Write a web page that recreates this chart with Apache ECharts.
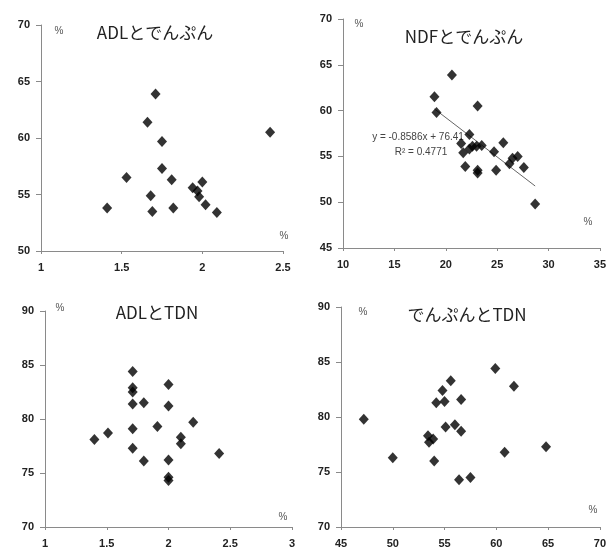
<!DOCTYPE html>
<html>
<head>
<meta charset="utf-8">
<script src="https://cdn.jsdelivr.net/npm/echarts@6/dist/echarts.min.js"></script>
<style>
  html, body { margin: 0; padding: 0; background: #fff; }
  #chart { width: 609px; height: 549px; }
</style>
</head>
<body>
<div id="chart"></div>
<script>
// ADL (%) vs starch (%)
const adlStarch = [
  [1.41, 53.8], [1.53, 56.5], [1.66, 61.4], [1.71, 63.9], [1.68, 54.9],
  [1.69, 53.5], [1.75, 59.7], [1.75, 57.3], [1.81, 56.3], [1.82, 53.8],
  [1.94, 55.6], [1.97, 55.3], [1.98, 54.8], [2.00, 56.1], [2.02, 54.1],
  [2.09, 53.4], [2.42, 60.5]
];
// NDF (%) vs starch (%)
const ndfStarch = [
  [18.9, 61.5], [19.1, 59.8], [20.6, 63.9], [23.1, 60.5], [22.3, 57.4],
  [21.5, 56.4], [21.7, 55.4], [22.3, 55.8], [22.6, 56.1], [23.0, 56.1],
  [23.5, 56.2], [21.9, 53.9], [23.1, 53.5], [23.1, 53.2], [24.7, 55.5],
  [24.9, 53.5], [25.6, 56.5], [26.2, 54.2], [26.5, 54.8], [27.0, 55.0],
  [27.6, 53.8], [28.7, 49.8]
];
// linear trend of starch on NDF
const trendSlope = -0.8586;
const trendIntercept = 76.41;
const trendR2 = 0.4771;
// ADL (%) vs TDN (%)
const adlTdn = [
  [1.40, 78.1], [1.51, 78.7], [1.71, 84.4], [1.71, 82.9], [1.71, 82.5],
  [1.71, 81.4], [1.71, 79.1], [1.71, 77.3], [1.80, 81.5], [1.80, 76.1],
  [1.91, 79.3], [2.00, 83.2], [2.00, 81.2], [2.00, 76.2], [2.00, 74.6],
  [2.00, 74.3], [2.10, 78.3], [2.10, 77.7], [2.20, 79.7], [2.41, 76.8]
];
// starch (%) vs TDN (%)
const starchTdn = [
  [47.2, 79.8], [50.0, 76.3], [53.4, 78.3], [53.5, 77.7], [53.9, 78.0],
  [54.0, 76.0], [54.2, 81.3], [54.8, 82.4], [55.0, 81.4], [55.1, 79.1],
  [55.6, 83.3], [56.0, 79.3], [56.4, 74.3], [56.6, 81.6], [56.6, 78.7],
  [57.5, 74.5], [59.9, 84.4], [60.8, 76.8], [61.7, 82.8], [64.8, 77.3]
];

const panelTitles = ['ADLとでんぷん', 'NDFとでんぷん', 'ADLとTDN', 'でんぷんとTDN'];
const xRanges = [[1, 2.5, 0.5], [10, 35, 5], [1, 3, 0.5], [45, 70, 5]];
const yRanges = [[50, 70, 5], [45, 70, 5], [70, 90, 5], [70, 90, 5]];
const panelData = [adlStarch, ndfStarch, adlTdn, starchTdn];

// plot areas in pixels
const grids = [
  { left: 41, top: 25, width: 242, height: 226 },
  { left: 343, top: 19, width: 265, height: 229 },
  { left: 45, top: 311, width: 247, height: 217 },
  { left: 341, top: 307, width: 264, height: 222 }
];

const axisColor = '#8a8a8a';
const labelStyle = {
  color: '#222',
  fontFamily: 'Liberation Sans, Arial, sans-serif',
  fontWeight: 'bold',
  fontSize: 11
};

const xAxes = xRanges.map((r, i) => ({
  type: 'value', gridIndex: i, min: r[0], max: r[1], interval: r[2],
  splitLine: { show: false },
  axisLine: { onZero: false, lineStyle: { color: axisColor, width: 1 } },
  axisTick: { show: true, length: 3, lineStyle: { color: axisColor } },
  axisLabel: Object.assign({ margin: 11, showMinLabel: true, showMaxLabel: true }, labelStyle)
}));
const yAxes = yRanges.map((r, i) => ({
  type: 'value', gridIndex: i, min: r[0], max: r[1], interval: r[2],
  splitLine: { show: false },
  axisLine: { onZero: false, lineStyle: { color: axisColor, width: 1 } },
  axisTick: { show: true, length: 5, lineStyle: { color: axisColor } },
  axisLabel: Object.assign({ margin: 11, showMinLabel: true, showMaxLabel: true }, labelStyle)
}));

const series = panelData.map((d, i) => ({
  type: 'scatter', xAxisIndex: i, yAxisIndex: i, data: d,
  symbol: 'diamond', symbolSize: [10, 11],
  itemStyle: { color: '#000' }, z: 3
}));

// trend line over the NDF data range
const ndfXs = ndfStarch.map(p => p[0]);
const trendX0 = Math.min.apply(null, ndfXs);
const trendX1 = Math.max.apply(null, ndfXs);
series.push({
  type: 'line', xAxisIndex: 1, yAxisIndex: 1,
  data: [[trendX0, trendSlope * trendX0 + trendIntercept],
         [trendX1, trendSlope * trendX1 + trendIntercept]],
  symbol: 'none', lineStyle: { color: '#666', width: 1 }, z: 2,
  silent: true
});

const titlePos = [[155, 33], [464, 37], [157, 313], [467, 315]];
const pctYPos = [[59, 31], [359, 24], [60, 308], [363, 312]];
const pctXPos = [[284, 236], [588, 222], [283, 517], [593, 510]];

const graphics = [];
panelTitles.forEach((t, i) => {
  graphics.push({
    type: 'text', x: titlePos[i][0], y: titlePos[i][1],
    style: { text: t, fill: '#222', font: '17px "Noto Sans CJK JP", sans-serif',
             textAlign: 'center', textVerticalAlign: 'middle' }
  });
  [pctYPos[i], pctXPos[i]].forEach(p => {
    graphics.push({
      type: 'text', x: p[0], y: p[1],
      style: { text: '%', fill: '#555', font: '10px "Liberation Sans", sans-serif',
               textAlign: 'center', textVerticalAlign: 'middle' }
    });
  });
});
const fmt = (v) => (v < 0 ? '-' : '') + Math.abs(v);
graphics.push({
  type: 'text', x: 418, y: 137,
  style: { text: 'y = ' + fmt(trendSlope) + 'x + ' + trendIntercept, fill: '#444',
           font: '10px "Liberation Sans", sans-serif', textAlign: 'center', textVerticalAlign: 'middle' }
});
graphics.push({
  type: 'text', x: 421, y: 152,
  style: { text: 'R² = ' + trendR2, fill: '#444',
           font: '10px "Liberation Sans", sans-serif', textAlign: 'center', textVerticalAlign: 'middle' }
});

const chart = echarts.init(document.getElementById('chart'), null, { renderer: 'canvas' });
chart.setOption({
  animation: false,
  backgroundColor: '#fff',
  grid: grids,
  xAxis: xAxes,
  yAxis: yAxes,
  series: series,
  graphic: graphics
});
</script>
</body>
</html>
